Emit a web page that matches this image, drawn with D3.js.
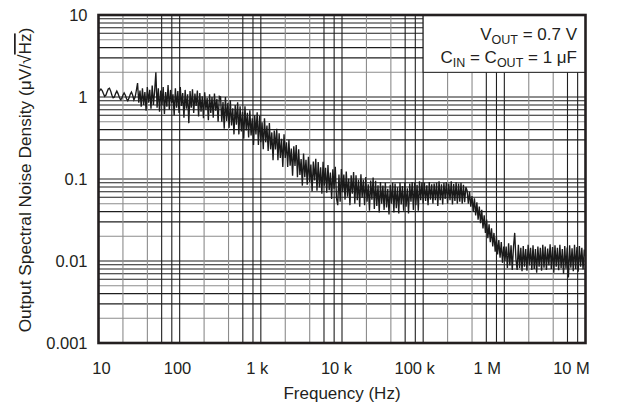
<!DOCTYPE html>
<html>
<head>
<meta charset="utf-8">
<script src="https://cdn.jsdelivr.net/npm/d3@7"></script>
<style>
	body { margin: 0; background: #fff; }
	text { font-family: "Liberation Sans", Arial, sans-serif; fill: #231f20; }
</style>
</head>
<body>
<div id="chart"></div>
<script>
// noise density, uV/rtHz, 400 samples log-spaced from 10 Hz to 10 MHz
var noise = [
	1.15, 1.2, 1.25, 1.2, 1.1, 1.02, 1.05, 1.15, 1.25, 1.28,
	1.18, 1.05, 0.98, 1.0, 1.1, 1.18, 1.1, 1.0, 0.93, 0.95,
	1.05, 1.12, 1.05, 0.95, 0.9, 0.97, 1.08, 1.15, 1.05, 0.92,
	1.0, 1.2, 1.48,
	0.85, 1.2, 0.76, 1.28, 0.8, 1.15, 0.68, 1.32, 0.85, 1.22,
	0.72, 1.38, 0.8, 1.18, 2.0, 0.74, 1.28, 0.66, 1.2, 0.8,
	1.32, 0.62, 1.15, 0.76, 1.4, 0.7, 1.22, 0.84, 1.08, 0.6,
	1.28, 0.74, 1.18, 0.64, 1.32, 0.78, 1.12, 0.56, 1.22, 0.72,
	1.08, 0.48, 1.18, 0.74, 1.24, 0.64, 1.1, 0.78, 1.2, 0.58,
	1.12, 0.66, 1.02, 0.55, 1.14, 0.7, 0.98, 0.52, 1.08, 0.64,
	1.0, 0.56, 1.1, 0.68, 0.95, 0.5, 1.02,
	1.0, 0.5, 0.87, 0.41, 1.0, 0.51, 0.85, 0.42, 0.91, 0.45,
	0.73, 0.35, 0.8, 0.46, 0.86, 0.35, 0.77, 0.38, 0.66, 0.31,
	0.77, 0.39, 0.64, 0.32, 0.69, 0.34, 0.55, 0.26, 0.6, 0.35,
	0.65, 0.26, 0.59,
	0.28, 0.49, 0.23, 0.55, 0.28, 0.45, 0.22, 0.48, 0.23, 0.37,
	0.17, 0.39, 0.23, 0.41, 0.17, 0.36, 0.18, 0.31, 0.14, 0.35,
	0.18, 0.28, 0.14, 0.3, 0.145, 0.235, 0.11, 0.25, 0.144, 0.26,
	0.105, 0.23, 0.112,
	0.175, 0.083, 0.205, 0.105, 0.172, 0.085, 0.186, 0.091, 0.15, 0.071,
	0.163, 0.096, 0.177, 0.072, 0.161, 0.079, 0.139, 0.066, 0.162, 0.083,
	0.137, 0.068, 0.148, 0.073, 0.12, 0.057, 0.131, 0.076, 0.141, 0.058,
	0.048, 0.113, 0.053, 0.132,
	0.069, 0.113, 0.056, 0.123, 0.061, 0.101, 0.048, 0.111, 0.066, 0.122,
	0.05, 0.111, 0.055, 0.098, 0.046, 0.114, 0.059, 0.098, 0.048, 0.106,
	0.053, 0.086, 0.041, 0.096, 0.056, 0.104, 0.043, 0.095, 0.047, 0.084,
	0.039, 0.092, 0.05, 0.083, 0.042, 0.09, 0.045, 0.076, 0.037, 0.085,
	0.05, 0.09, 0.039, 0.088, 0.044, 0.079, 0.038, 0.09, 0.049, 0.082,
	0.041, 0.09, 0.046, 0.077, 0.038, 0.088, 0.053, 0.092, 0.042, 0.09,
	0.048, 0.085, 0.041, 0.094, 0.055, 0.091,
	0.05, 0.09, 0.054, 0.084, 0.048, 0.092, 0.056, 0.086, 0.05, 0.088,
	0.055, 0.09, 0.047, 0.094, 0.055, 0.086, 0.049, 0.09, 0.057, 0.092,
	0.05, 0.088, 0.055, 0.094, 0.049, 0.087, 0.054, 0.091, 0.05, 0.088,
	0.053, 0.09, 0.05, 0.085, 0.052, 0.08,
	0.072, 0.05, 0.07, 0.046, 0.062, 0.04, 0.058, 0.036, 0.052, 0.032,
	0.046, 0.029, 0.042, 0.025, 0.036, 0.022, 0.032, 0.019, 0.028, 0.017,
	0.025, 0.015, 0.022, 0.013, 0.02, 0.012, 0.018, 0.011, 0.017, 0.0095,
	0.015, 0.01,
	0.015, 0.0082, 0.0165, 0.0088, 0.0155, 0.0078, 0.0148, 0.022, 0.0105, 0.0078,
	0.0158, 0.0082, 0.0145, 0.0075, 0.0152, 0.0085, 0.014, 0.0076, 0.0158, 0.0088,
	0.0145, 0.0078, 0.0155, 0.008, 0.014, 0.0072, 0.015, 0.0085, 0.0145, 0.0076,
	0.0158, 0.0083, 0.015, 0.0078, 0.0142, 0.0088, 0.016, 0.008, 0.0148, 0.0072,
	0.0155, 0.0085, 0.0145, 0.0077, 0.0158, 0.0082, 0.014, 0.007, 0.0152, 0.0081,
	0.0146, 0.0063, 0.0155, 0.0083, 0.0143, 0.0075, 0.0158, 0.008, 0.0148, 0.0074,
	0.0152, 0.0085, 0.0145, 0.0079, 0.0138, 0.0115
];
var freqs = noise.map(function (d, i) { return Math.pow(10, 1 + 6 * i / (noise.length - 1)); });

var xTicks = [10, 100, 1e3, 1e4, 1e5, 1e6, 1e7];
var xTickLabels = ["10", "100", "1 k", "10 k", "100 k", "1 M", "10 M"];
var yTicks = [0.001, 0.01, 0.1, 1, 10];
var yTickLabels = ["0.001", "0.01", "0.1", "1", "10"];

// label nudges seen on the original
var xLabelShift = [2.5, -2.7, -4, -6, -9, -17.5, -14.5];

var plotL = 98.5, plotR = 585.5, plotT = 15, plotB = 343;

var svg = d3.select("#chart")
	.append("svg")
	.attr("width", 618)
	.attr("height", 412);

var x = d3.scaleLog().domain([10, 1e7]).range([plotL, plotR]);
var y = d3.scaleLog().domain([0.001, 10]).range([plotB, plotT]);

// grid: 2,4,6,8 per decade vertically, 2..9 horizontally
var vGrid = [];
for (var e = 1; e < 7; e++) {
	[2, 4, 6, 8, 10].forEach(function (m) { vGrid.push({v: m * Math.pow(10, e), m: m}); });
}
var hGrid = [];
for (var e2 = -3; e2 < 1; e2++) {
	[2, 3, 4, 5, 6, 7, 8, 9, 10].forEach(function (m) { hGrid.push({v: m * Math.pow(10, e2), m: m}); });
}

svg.append("g")
	.selectAll("line")
	.data(hGrid.filter(function (d) { return d.v < 9.99; }))
	.join("line")
	.attr("x1", plotL).attr("x2", plotR)
	.attr("y1", function (d) { return y(d.v); })
	.attr("y2", function (d) { return y(d.v); })
	.attr("stroke", function (d) { return (d.m == 2 || d.m == 5) ? "#8c8c8c" : "#1e1e1e"; })
	.attr("stroke-width", 1.1);

svg.append("g")
	.selectAll("line")
	.data(vGrid.filter(function (d) { return d.v < 9.99e6; }))
	.join("line")
	.attr("y1", plotT).attr("y2", plotB)
	.attr("x1", function (d) { return x(d.v); })
	.attr("x2", function (d) { return x(d.v); })
	.attr("stroke", function (d) { return (d.m == 2 || d.m == 4) ? "#8c8c8c" : "#1e1e1e"; })
	.attr("stroke-width", 1.1);

// legend area blanks the grid
svg.append("rect")
	.attr("x", x(1e5))
	.attr("y", plotT)
	.attr("width", plotR - x(1e5))
	.attr("height", y(2) - plotT)
	.attr("fill", "#fff")
	.attr("stroke", "#1e1e1e")
	.attr("stroke-width", 1);

var line = d3.line()
	.x(function (d, i) { return x(freqs[i]); })
	.y(function (d) { return y(d); });

svg.append("path")
	.datum(noise)
	.attr("d", line)
	.attr("fill", "none")
	.attr("stroke", "#1a1a1a")
	.attr("stroke-width", 1.35)
	.attr("stroke-linejoin", "miter");

svg.append("rect")
	.attr("x", plotL).attr("y", plotT)
	.attr("width", plotR - plotL).attr("height", plotB - plotT)
	.attr("fill", "none")
	.attr("stroke", "#231f20")
	.attr("stroke-width", 2.6);

// axes
var xAxis = d3.axisBottom(x).tickValues(xTicks).tickSize(0)
	.tickFormat(function (d, i) { return xTickLabels[i]; });
var gx = svg.append("g")
	.attr("transform", "translate(0," + plotB + ")")
	.call(xAxis);
gx.select(".domain").remove();
gx.selectAll("text")
	.attr("y", 31)
	.attr("dy", 0)
	.attr("dx", function (d, i) { return xLabelShift[i]; })
	.style("font-size", "16.5px")
	.style("font-family", "Liberation Sans, Arial, sans-serif")
	.attr("fill", "#231f20");

var yAxis = d3.axisLeft(y).tickValues(yTicks).tickSize(0)
	.tickFormat(function (d, i) { return yTickLabels[i]; });
var gy = svg.append("g")
	.attr("transform", "translate(" + plotL + ",0)")
	.call(yAxis);
gy.select(".domain").remove();
gy.selectAll("text")
	.attr("x", -11)
	.attr("dy", "0.36em")
	.style("font-size", "16.5px")
	.style("font-family", "Liberation Sans, Arial, sans-serif")
	.attr("fill", "#231f20");

svg.append("text")
	.attr("x", (plotL + plotR) / 2)
	.attr("y", 399)
	.attr("text-anchor", "middle")
	.style("font-size", "17px")
	.text("Frequency (Hz)");

var yTitle = svg.append("text")
	.attr("transform", "translate(31," + ((plotT + plotB) / 2 + 1) + ") rotate(-90)")
	.attr("text-anchor", "middle")
	.style("font-size", "17.3px");
yTitle.append("tspan").text("Output Spectral Noise Density (\u03bcV/\u221a");
yTitle.append("tspan").text("Hz").style("text-decoration", "overline");
yTitle.append("tspan").text(")");

// legend text
var leg1 = svg.append("text")
	.attr("x", 577).attr("y", 40)
	.attr("text-anchor", "end")
	.style("font-size", "17px");
leg1.append("tspan").text("V");
leg1.append("tspan").text("OUT").attr("dy", 4).style("font-size", "12.5px");
leg1.append("tspan").text(" = 0.7 V").attr("dy", -4);

var leg2 = svg.append("text")
	.attr("x", 577).attr("y", 63)
	.attr("text-anchor", "end")
	.style("font-size", "17px");
leg2.append("tspan").text("C");
leg2.append("tspan").text("IN").attr("dy", 4).style("font-size", "12.5px");
leg2.append("tspan").text(" = C").attr("dy", -4);
leg2.append("tspan").text("OUT").attr("dy", 4).style("font-size", "12.5px");
leg2.append("tspan").text(" = 1 \u03bcF").attr("dy", -4);
</script>
</body>
</html>
